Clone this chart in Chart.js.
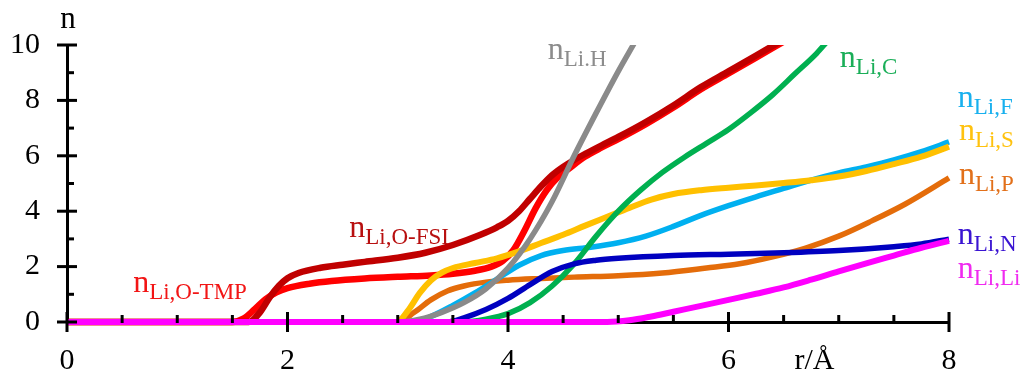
<!DOCTYPE html>
<html>
<head>
<meta charset="utf-8">
<script src="https://cdn.jsdelivr.net/npm/chart.js@4.4.1/dist/chart.umd.min.js"></script>
<style>
  html, body { margin: 0; padding: 0; background: #fff; }
</style>
</head>
<body>
<canvas id="chart" width="1026" height="375"></canvas>
<script>
// coordination numbers n(r)
const rTMP = [0, 1.5, 1.6, 1.7, 1.8, 1.9, 2.0, 2.2, 2.4, 2.7, 3.0, 3.3, 3.5, 3.7, 3.85, 3.95, 4.05, 4.15, 4.25, 4.35, 4.45, 4.55, 4.7, 4.85, 5.0, 5.25, 5.5, 5.75, 6.0, 6.25, 6.5];
const nTMP = [0, 0, 0.12, 0.45, 0.82, 1.07, 1.22, 1.38, 1.48, 1.57, 1.63, 1.68, 1.74, 1.85, 2.0, 2.2, 2.6, 3.3, 4.1, 4.75, 5.22, 5.53, 5.97, 6.3, 6.6, 7.14, 7.74, 8.4, 8.97, 9.54, 10.12];

const rFSI = [0, 1.65, 1.75, 1.84, 1.92, 2.0, 2.1, 2.3, 2.5, 2.7, 3.0, 3.25, 3.5, 3.75, 3.9, 4.0, 4.1, 4.2, 4.3, 4.4, 4.5, 4.6, 4.7, 4.85, 5.0, 5.25, 5.5, 5.75, 6.0, 6.25, 6.5];
const nFSI = [0, 0, 0.35, 0.9, 1.3, 1.58, 1.77, 1.96, 2.07, 2.17, 2.32, 2.5, 2.78, 3.15, 3.42, 3.65, 4.0, 4.45, 4.9, 5.3, 5.6, 5.85, 6.07, 6.38, 6.68, 7.22, 7.82, 8.48, 9.05, 9.62, 10.2];

const rH = [0, 3.0, 3.2, 3.4, 3.6, 3.8, 4.0, 4.2, 4.4, 4.6, 4.8, 5.0, 5.15];
const nH = [0, 0, 0.1, 0.35, 0.7, 1.2, 1.95, 3.0, 4.35, 6.0, 7.55, 9.05, 10.1];

const rC = [0, 3.6, 3.8, 4.0, 4.2, 4.4, 4.6, 4.8, 5.0, 5.2, 5.4, 5.6, 5.8, 6.0, 6.2, 6.4, 6.6, 6.8, 6.9];
const nC = [0, 0, 0.1, 0.3, 0.7, 1.3, 2.1, 3.1, 4.0, 4.75, 5.4, 5.95, 6.45, 6.95, 7.55, 8.2, 8.95, 9.7, 10.15];

const rF = [0, 3.15, 3.3, 3.5, 3.7, 3.9, 4.1, 4.3, 4.5, 4.75, 5.0, 5.25, 5.5, 5.75, 6.0, 6.25, 6.5, 6.75, 7.0, 7.25, 7.5, 7.75, 8.0];
const nF = [0, 0, 0.2, 0.6, 1.05, 1.55, 2.05, 2.4, 2.58, 2.7, 2.86, 3.1, 3.45, 3.85, 4.2, 4.52, 4.82, 5.12, 5.38, 5.6, 5.85, 6.15, 6.5];

const rS = [0, 2.99, 3.1, 3.2, 3.3, 3.4, 3.5, 3.7, 3.9, 4.1, 4.3, 4.5, 4.7, 4.9, 5.1, 5.3, 5.5, 5.75, 6.0, 6.25, 6.5, 6.75, 7.0, 7.25, 7.5, 7.75, 8.0];
const nS = [0, 0, 0.45, 1.05, 1.5, 1.78, 1.95, 2.13, 2.3, 2.55, 2.85, 3.15, 3.48, 3.8, 4.12, 4.42, 4.62, 4.76, 4.85, 4.93, 5.02, 5.12, 5.25, 5.45, 5.7, 5.97, 6.33];

const rP = [0, 3.0, 3.15, 3.3, 3.45, 3.6, 3.8, 4.0, 4.3, 4.6, 5.0, 5.4, 5.8, 6.1, 6.4, 6.7, 7.0, 7.3, 7.6, 8.0];
const nP = [0, 0, 0.35, 0.8, 1.12, 1.3, 1.44, 1.51, 1.57, 1.62, 1.67, 1.77, 1.95, 2.1, 2.35, 2.67, 3.1, 3.65, 4.25, 5.2];

const rN = [0, 3.45, 3.6, 3.8, 4.0, 4.2, 4.4, 4.6, 4.8, 5.0, 5.5, 6.0, 6.5, 7.0, 7.5, 7.75, 8.0];
const nN = [0, 0, 0.15, 0.45, 0.85, 1.35, 1.82, 2.1, 2.23, 2.3, 2.4, 2.45, 2.5, 2.58, 2.72, 2.82, 2.99];

const rLi = [0, 4.9, 5.1, 5.3, 5.5, 5.75, 6.0, 6.25, 6.5, 6.75, 7.0, 7.25, 7.5, 7.75, 8.0];
const nLi = [0, 0, 0.06, 0.2, 0.37, 0.58, 0.8, 1.02, 1.25, 1.53, 1.83, 2.12, 2.4, 2.68, 2.93];

// curve labels: subscript text, colour and where the "n" sits (r, n)
const labelSubs = ['Li,O-TMP', 'Li,O-FSI', 'Li.H', 'Li,C', 'Li,F', 'Li,S', 'Li,P', 'Li,N', 'Li,Li'];
const labelColors = ['#f21515', '#b81010', '#8c8c8c', '#1aae58', '#18b0ee', '#ffc20e', '#e2701a', '#3a14d2', '#f02af0'];
const labelR = [0.60, 2.56, 4.36, 7.01, 8.08, 8.09, 8.09, 8.08, 8.08];
const labelN = [1.08, 3.07, 9.5, 9.2, 7.77, 6.58, 4.97, 2.82, 1.6];

const xMajor = [0, 2, 4, 6, 8];
const xMinor = [0.5, 1, 1.5, 2.5, 3, 3.5, 4.5, 5, 5.5, 6.5, 7, 7.5];
const yMajor = [0, 2, 4, 6, 8, 10];
const yMinor = [1, 3, 5, 7, 9];

const SERIF = '"Liberation Serif", "Times New Roman", Tinos, serif';

function pts(rs, ns) {
  return rs.map((r, i) => ({ x: r, y: ns[i] }));
}

function series(rs, ns, color, width) {
  return {
    data: pts(rs, ns),
    borderColor: color,
    borderWidth: width || 5.5,
    pointRadius: 0,
    fill: false,
    cubicInterpolationMode: 'monotone',
    clip: { left: 10, right: 10, top: 0, bottom: 10 }
  };
}

// tick marks, axis titles and curve labels
const decorations = {
  id: 'decorations',
  afterDatasetsDraw(chart) {
    const { ctx, scales: { x, y } } = chart;
    const x0 = x.getPixelForValue(0);
    const y0 = y.getPixelForValue(0);
    ctx.save();
    ctx.strokeStyle = '#000';
    ctx.lineWidth = 3;
    function seg(a, b, c, d) {
      ctx.beginPath(); ctx.moveTo(a, b); ctx.lineTo(c, d); ctx.stroke();
    }
    xMajor.forEach(v => { const p = x.getPixelForValue(v); seg(p, y0 - 10, p, y0 + 10); });
    xMinor.forEach(v => { const p = x.getPixelForValue(v); seg(p, y0 - 7, p, y0 + 1); });
    yMajor.forEach(v => { const p = y.getPixelForValue(v); seg(x0 - 10, p, x0 + 10, p); });
    yMinor.forEach(v => { const p = y.getPixelForValue(v); seg(x0 - 1, p, x0 + 7, p); });

    ctx.fillStyle = '#000';
    ctx.textBaseline = 'alphabetic';
    ctx.textAlign = 'center';
    ctx.font = '31px ' + SERIF;
    ctx.fillText('n', x0 + 1, 28);
    ctx.font = '30px ' + SERIF;
    ctx.fillText('r/Å', x.getPixelForValue(6.78), 369);

    ctx.textAlign = 'left';
    labelSubs.forEach((sub, i) => {
      const px = x.getPixelForValue(labelR[i]);
      const py = y.getPixelForValue(labelN[i]);
      ctx.fillStyle = labelColors[i];
      ctx.font = '32px ' + SERIF;
      ctx.fillText('n', px, py);
      const w = ctx.measureText('n').width;
      ctx.font = '23px ' + SERIF;
      ctx.fillText(sub, px + w, py + 7);
    });
    ctx.restore();
  }
};

new Chart(document.getElementById('chart'), {
  type: 'line',
  data: {
    datasets: [
      series(rLi, nLi, '#ff00ff', 6),
      series(rH, nH, '#8a8a8a', 5.5),
      series(rN, nN, '#0000c0'),
      series(rC, nC, '#00b050'),
      series(rS, nS, '#ffc000', 6),
      series(rF, nF, '#00b0f0'),
      series(rP, nP, '#e46c0a'),
      series(rFSI, nFSI, '#c00000', 6.5),
      series(rTMP, nTMP, '#ff0000', 6.5)
    ]
  },
  options: {
    responsive: false,
    animation: false,
    layout: { padding: { top: 43, right: 77, bottom: 0, left: 0 } },
    plugins: { legend: { display: false }, tooltip: { enabled: false } },
    scales: {
      x: {
        type: 'linear',
        min: 0,
        max: 8,
        grid: { display: false, drawTicks: false },
        border: { display: true, color: '#000', width: 3 },
        ticks: {
          stepSize: 2,
          padding: 21,
          color: '#000',
          font: { family: SERIF, size: 30 },
          maxRotation: 0
        },
        afterFit(scale) { scale.height = 53; }
      },
      y: {
        min: 0,
        max: 10,
        grid: { display: false, drawTicks: false },
        border: { display: true, color: '#000', width: 3 },
        ticks: {
          stepSize: 2,
          padding: 27,
          color: '#000',
          font: { family: SERIF, size: 30 }
        },
        afterFit(scale) { scale.width = 67; }
      }
    }
  },
  plugins: [decorations]
});
</script>
</body>
</html>
